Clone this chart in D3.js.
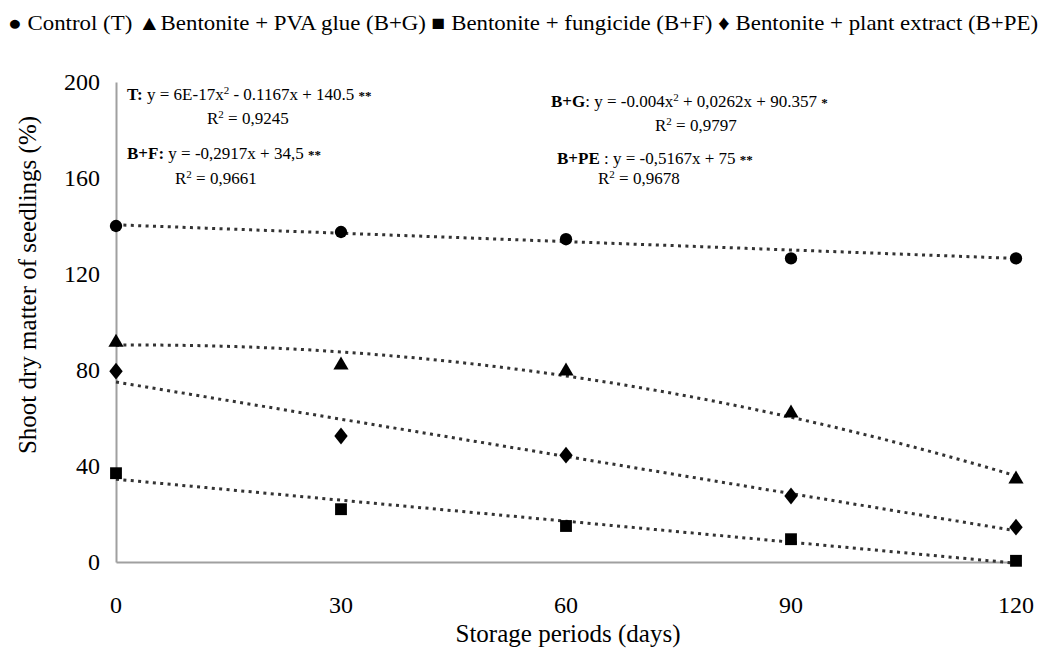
<!DOCTYPE html>
<html>
<head>
<meta charset="utf-8">
<script src="https://cdn.jsdelivr.net/npm/d3@7"></script>
</head>
<body style="margin:0">
<script>
// storage periods (days)
var days = [0, 30, 60, 90, 120];

// values (%)
var control   = [140, 137.5, 134.5, 126.5, 126.5];
var pvaGlue   = [91.5, 82, 79.5, 62, 34.5];
var fungicide = [37, 22, 15, 9.5, 0.5];
var plantExt  = [79.5, 52.5, 44.5, 27.5, 14.5];

// trendline coefficients as printed [a2, a1, a0]
var coefT  = [6e-17, -0.1167, 140.5];
var coefBG = [-0.004, 0.0262, 90.357];
var coefBF = [0, -0.2917, 34.5];
var coefBPE = [0, -0.5167, 75];

var yTicks = [0, 40, 80, 120, 160, 200];

var width = 1048, height = 649;
var margin = {top: 82, right: 32, bottom: 87, left: 116};
var serif = "'Liberation Serif', monospace";

var svg = d3.select("body").append("svg")
    .attr("width", width)
    .attr("height", height);

var x = d3.scaleLinear().domain([0, 120]).range([margin.left, width - margin.right]);
var y = d3.scaleLinear().domain([0, 200]).range([height - margin.bottom, margin.top]);

// text helper, font set on the element itself
function label(parent, size, str) {
  var t = parent.append("text")
      .style("font-family", serif)
      .style("font-size", size + "px");
  if (str != null) t.text(str);
  return t;
}

// axes: domain lines only, tick labels drawn as texts from the scales
svg.append("g")
    .attr("transform", "translate(0," + y(0) + ")")
    .call(d3.axisBottom(x).tickValues(days).tickSize(0).tickFormat(""))
    .select(".domain").style("stroke", "#a0a0a0").style("stroke-width", 2);

svg.append("g")
    .attr("transform", "translate(" + x(0) + ",0)")
    .call(d3.axisLeft(y).tickValues(yTicks).tickSize(0).tickFormat(""))
    .select(".domain").style("stroke", "#a0a0a0").style("stroke-width", 2);

days.forEach(function(d) {
  label(svg, 24, String(d)).attr("x", x(d)).attr("y", y(0) + 51).attr("text-anchor", "middle");
});
yTicks.forEach(function(d) {
  label(svg, 24, String(d)).attr("x", x(0) - 16).attr("y", y(d) + 8).attr("text-anchor", "end");
});

// axis titles
label(svg, 25, "Storage periods (days)")
    .attr("x", 568).attr("y", 642)
    .attr("text-anchor", "middle");

label(svg, 25, "Shoot dry matter of seedlings (%)")
    .attr("transform", "translate(36,285) rotate(-90)")
    .attr("text-anchor", "middle");

// trendlines
var fine = d3.range(0, 121, 2);
var line = d3.line().x(function(d) { return x(d[0]); }).y(function(d) { return y(d[1]); });
[coefT, coefBG, coefBF, coefBPE].forEach(function(c) {
  var pts = fine.map(function(t) { return [t, c[0] * t * t + c[1] * t + c[2]]; });
  svg.append("path")
      .attr("d", line(pts))
      .attr("fill", "none")
      .attr("stroke", "#333")
      .attr("stroke-width", 3)
      .attr("stroke-dasharray", "3,4.4");
});

// markers
var series = [
  {vals: control,   sym: d3.symbolCircle,   size: 120},
  {vals: pvaGlue,   sym: d3.symbolTriangle, size: 100},
  {vals: fungicide, sym: d3.symbolSquare,   size: 140},
  {vals: plantExt,  sym: d3.symbolDiamond,  size: 100}
];
series.forEach(function(s) {
  svg.selectAll(null)
    .data(s.vals)
    .enter().append("path")
      .attr("d", d3.symbol().type(s.sym).size(s.size))
      .attr("transform", function(d, i) {
        var sx = s.sym === d3.symbolDiamond ? " scale(1.25,0.9)" : "";
        return "translate(" + x(days[i]) + "," + y(d) + ")" + sx;
      })
      .attr("fill", "#000");
});

// legend
label(svg, 21, "\u25CF Control (T) \u25B2Bentonite + PVA glue (B+G) \u25A0 Bentonite + fungicide (B+F) \u2666 Bentonite + plant extract (B+PE)")
    .attr("x", 8).attr("y", 30)
    .attr("textLength", 1030)
    .attr("lengthAdjust", "spacingAndGlyphs");

// equations
function sup(t) {
  t.append("tspan").attr("dy", -6).style("font-size", "11px").text("2");
}
function equation(xp, yp, lab, pre, post, stars) {
  var t = label(svg, 17).attr("x", xp).attr("y", yp);
  t.append("tspan").style("font-weight", "bold").text(lab);
  t.append("tspan").text(pre);
  if (post !== null) {
    sup(t);
    t.append("tspan").attr("dy", 6).text(post);
  }
  t.append("tspan").style("font-weight", "bold").style("font-size", "13px").text(stars);
}
function rsq(xp, yp, val) {
  var t = label(svg, 17).attr("x", xp).attr("y", yp);
  t.append("tspan").text("R");
  sup(t);
  t.append("tspan").attr("dy", 6).text(" = " + val);
}

equation(127, 100, "T:", " y = 6E-17x", " - 0.1167x + 140.5 ", "**");
rsq(207, 124, "0,9245");
equation(127, 159, "B+F:", " y = -0,2917x + 34,5 ", null, "**");
rsq(175, 184, "0,9661");

equation(551, 107, "B+G", ": y = -0.004x", " + 0,0262x + 90.357 ", "*");
rsq(655, 131, "0,9797");
equation(557, 164, "B+PE", " : y = -0,5167x + 75 ", null, "**");
rsq(598, 184, "0,9678");
</script>
</body>
</html>
